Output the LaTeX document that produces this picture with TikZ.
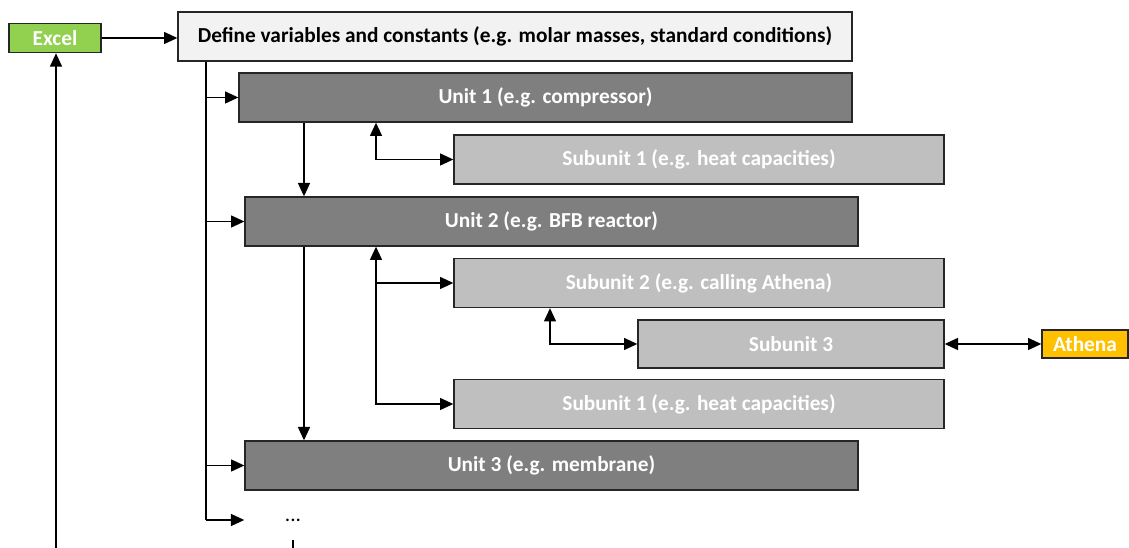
\documentclass[tikz,border=0pt]{standalone}
\usepackage{fontspec}
\setmainfont{Carlito}
\usetikzlibrary{arrows.meta, positioning}
\definecolor{excelgreen}{HTML}{92D050}
\definecolor{definegray}{HTML}{F2F2F2}
\definecolor{unitgray}{HTML}{7F7F7F}
\definecolor{subgray}{HTML}{BFBFBF}
\definecolor{athenaorange}{HTML}{FFC000}
\begin{document}
\begin{tikzpicture}[x=0.75pt, y=-0.75pt, >={Triangle[length=10pt, width=9pt]}, line width=1.1pt,
    box/.style={rectangle, draw=black!85, line width=1pt, inner sep=0pt, align=center, font=\bfseries\fontsize{16}{18}\selectfont},
    unit/.style={box, fill=unitgray, text=white, minimum width=459.75pt, minimum height=36.75pt},
    subunit/.style={box, fill=subgray, text=white, minimum width=367.5pt, minimum height=36.75pt},
    tag/.style={box, text=white, minimum height=22pt}]

        \useasboundingbox (0,0) rectangle (1129,548);

        \node[tag, fill=excelgreen, minimum width=69pt] (excel) at (55,38) {Excel};
        \node[box, fill=definegray, minimum width=505.5pt, minimum height=36.75pt] (define) at (515,36.5) {Define variables and constants (e.g. molar masses, standard conditions)};

        \node[unit] (unitone) at (545.5,97.5) {Unit 1 (e.g. compressor)};
        \node[subunit] (subone) at (699,159.5) {Subunit 1 (e.g. heat capacities)};
        \node[unit] (unittwo) at (551.5,221.5) {Unit 2 (e.g. BFB reactor)};
        \node[subunit] (subtwo) at (699,283) {Subunit 2 (e.g. calling Athena)};
        \node[subunit, minimum width=229.5pt, minimum height=36pt] (subthree) at (791,344) {Subunit 3};
        \node[tag, fill=athenaorange, minimum width=64.5pt, minimum height=21pt] (athena) at (1085,344) {Athena};
        \node[subunit] (suboneb) at (699,404) {Subunit 1 (e.g. heat capacities)};
        \node[unit] (unitthree) at (551.5,465.5) {Unit 3 (e.g. membrane)};
        \node[inner sep=0pt, minimum width=72pt, font=\fontsize{16}{18}\selectfont] (dots) at (293,520) {...};

        \coordinate (trunk) at (206,0);
        \coordinate (down) at (304,0);
        \coordinate (branchA) at (376,0);
        \coordinate (branchB) at (550,0);
        \coordinate (excelin) at (56,548);
        \coordinate (stubtop) at (293,540);
        \coordinate (stubend) at (293,548);

        \draw[->] (excel.east) -- (excel.east -| define.west);
        \draw[->] (excelin) -- (excel.south -| excelin);

        \draw (define.south -| trunk) -- (dots.west -| trunk);
        \draw[->] (unitone.west -| trunk) -- (unitone.west);
        \draw[->] (unittwo.west -| trunk) -- (unittwo.west);
        \draw[->] (unitthree.west -| trunk) -- (unitthree.west);
        \draw[->] (dots.west -| trunk) -- (dots.west);

        \draw[->] (unitone.south -| down) -- (unittwo.north -| down);
        \draw[->] (unittwo.south -| down) -- (unitthree.north -| down);

        \draw[<->] (unitone.south -| branchA) |- (subone.west);
        \draw[<->] (unittwo.south -| branchA) |- (subtwo.west);
        \draw[->] (subtwo.west -| branchA) |- (suboneb.west);
        \draw[<->] (subtwo.south -| branchB) |- (subthree.west);
        \draw[<->] (subthree.east) -- (athena.west);

        \draw (stubtop) -- (stubend);

\end{tikzpicture}
\end{document}
